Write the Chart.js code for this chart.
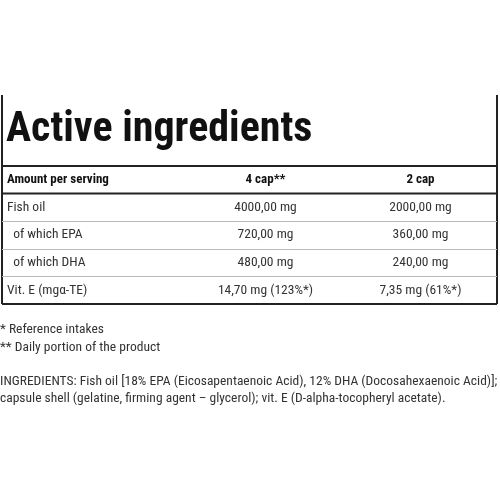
<!DOCTYPE html>
<html><head><meta charset="utf-8">
<script src="https://cdn.jsdelivr.net/npm/chart.js"></script>
<style>html,body{margin:0;padding:0;background:#fff}#c{display:block}</style>
</head><body>
<div style="width:500px;height:500px"><canvas id="c"></canvas></div>
<script>
const title = "Active ingredients";
const columns = ["Amount per serving", "4 cap**", "2 cap"];
const rows = ["Fish oil", "  of which EPA", "  of which DHA", "Vit. E (mgα-TE)"];
const dose4 = ["4000,00 mg", "720,00 mg", "480,00 mg", "14,70 mg (123%*)"];
const dose2 = ["2000,00 mg", "360,00 mg", "240,00 mg", "7,35 mg (61%*)"];
const notes = ["* Reference intakes", "** Daily portion of the product"];
const ingredients = ["INGREDIENTS: Fish oil [18% EPA (Eicosapentaenoic Acid), 12% DHA (Docosahexaenoic Acid)];",
  "capsule shell (gelatine, firming agent \u2013 glycerol); vit. E (D-alpha-tocopheryl acetate)."];
const yLabels = ["header"].concat(rows);
const F = "'Roboto Condensed','Liberation Sans Narrow',Roboto,sans-serif";

const tablePlugin = {
  id: 'table',
  afterDraw(chart) {
    const {ctx, chartArea: a, scales: {x, y}} = chart;
    const step = y.getPixelForValue(1) - y.getPixelForValue(0);
    const top = y.getPixelForValue(0) - step / 2;
    ctx.save();
    ctx.strokeStyle = '#222';
    ctx.lineWidth = 2;
    ctx.beginPath();
    ctx.moveTo(a.left, 95); ctx.lineTo(a.left, a.bottom);
    ctx.moveTo(a.right, 95); ctx.lineTo(a.right, a.bottom);
    ctx.moveTo(a.left, a.bottom); ctx.lineTo(a.right, a.bottom);
    ctx.moveTo(a.left, top); ctx.lineTo(a.right, top);
    ctx.moveTo(a.left, top + step); ctx.lineTo(a.right, top + step);
    ctx.stroke();
    ctx.lineWidth = 1; ctx.strokeStyle = '#bbb';
    for (let i = 2; i < yLabels.length; i++) {
      const yy = Math.round(top + step * i) + 0.5;
      ctx.beginPath(); ctx.moveTo(a.left, yy); ctx.lineTo(a.right, yy); ctx.stroke();
    }
    ctx.fillStyle = '#111';
    ctx.textBaseline = 'middle';
    ctx.font = "bold 42px " + F;
    ctx.textAlign = 'left';
    ctx.fillText(title, a.left + 4, 130);
    ctx.font = "bold 13px " + F;
    columns.forEach((c, i) => {
      ctx.textAlign = i === 0 ? 'left' : 'center';
      const xx = i === 0 ? a.left + 5 : x.getPixelForValue(i) + (i === 1 ? 16 : 6);
      ctx.fillText(c, xx, y.getPixelForValue(0));
    });
    ctx.font = "13.5px " + F;
    ctx.fillStyle = '#333';
    rows.forEach((r, i) => {
      const yy = y.getPixelForValue(i + 1);
      ctx.textAlign = 'left';
      ctx.fillText(r, a.left + 5, yy);
      ctx.textAlign = 'center';
      ctx.fillText(dose4[i], x.getPixelForValue(1) + 16, yy);
      ctx.fillText(dose2[i], x.getPixelForValue(2) + 6, yy);
    });
    ctx.textAlign = 'left';
    notes.forEach((n, i) => ctx.fillText(n, 0, a.bottom + 26 + i * 18));
    ingredients.forEach((n, i) => ctx.fillText(n, 0, a.bottom + 78 + i * 17));
    ctx.restore();
  }
};

new Chart(document.getElementById('c'), {
  type: 'bar',
  data: { labels: columns, datasets: [{ data: [], backgroundColor: 'transparent' }] },
  options: {
    responsive: true, maintainAspectRatio: false, animation: false,
    layout: { padding: { top: 166, bottom: 196, left: 2, right: 3 } },
    plugins: { legend: { display: false }, tooltip: { enabled: false } },
    scales: {
      x: { type: 'category', labels: columns, display: false, offset: true },
      y: { type: 'category', labels: yLabels, display: false, offset: true }
    }
  },
  plugins: [tablePlugin]
});
</script>
</body></html>
